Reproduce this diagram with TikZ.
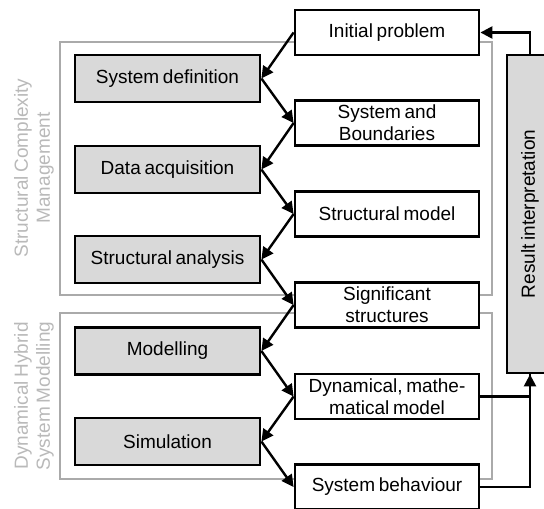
\documentclass[tikz,border=0pt]{standalone}
\usepackage{fontspec}
\setmainfont{Liberation Sans}[WordSpace=0.7]
\usetikzlibrary{arrows.meta}
\usetikzlibrary{positioning}

\definecolor{framegray}{RGB}{170,170,170}
\definecolor{labelgray}{RGB}{185,185,185}
\definecolor{boxgray}{RGB}{217,217,217}

\begin{document}
\begin{tikzpicture}[x=0.5pt,y=-0.5pt,font=\fontsize{9.5}{11}\selectfont,
  stepbox/.style={draw=black,line width=1.4pt,fill=boxgray,minimum width=92.5pt,minimum height=23.5pt,inner sep=1pt,align=center},
  resbox/.style={draw=black,line width=1.4pt,fill=white,minimum width=92pt,minimum height=22.5pt,inner sep=1pt,align=center},
  frame/.style={draw=framegray,line width=1pt},
  framelabel/.style={text=labelgray,align=center,rotate=90},
  conn/.style={draw=black,line width=1.2pt},
  arrow/.style={conn,-{Triangle[length=6pt,width=6pt]}}]
\useasboundingbox (0,0) rectangle (544,508);

% frames
\draw[frame] (60,42) rectangle (492,295);
\draw[frame] (60,313) rectangle (492,479);
\node[framelabel] (sclabel) at (34,168) {Structural Complexity\\Management};
\node[framelabel] (dhlabel) at (34,396) {Dynamical Hybrid\\System Modelling};

% steps
\node[stepbox] (sysdef) at (167.5,78.5) {System definition};
\node[stepbox] (dataacq) at (167.5,169.5) {Data acquisition};
\node[stepbox] (stranal) at (167.5,259.5) {Structural analysis};
\node[stepbox] (modelling) at (167.5,351) {Modelling};
\node[stepbox] (simulation) at (167.5,441.5) {Simulation};

% results
\node[resbox] (initprob) at (387,32.5) {Initial problem};
\node[resbox] (sysbound) at (387,123) {System and\\Boundaries};
\node[resbox] (strmodel) at (387,214) {Structural model};
\node[resbox] (sigstruct) at (387,305) {Significant\\structures};
\node[resbox] (dynmodel) at (387,396.5) {Dynamical, mathe-\\matical model};
\node[resbox] (sysbehav) at (387,487) {System behaviour};

\node[draw=black,line width=1.4pt,fill=boxgray,minimum width=159pt,minimum height=23pt,rotate=90] (resinterp) at (530,214) {Result interpretation};

% connectors
\draw[arrow] (initprob.west) -- (sysdef.east);
\draw[arrow] (sysdef.east) -- (sysbound.west);
\draw[arrow] (sysbound.west) -- (dataacq.east);
\draw[arrow] (dataacq.east) -- (strmodel.west);
\draw[arrow] (strmodel.west) -- (stranal.east);
\draw[arrow] (stranal.east) -- (sigstruct.west);
\draw[arrow] (sigstruct.west) -- (modelling.east);
\draw[arrow] (modelling.east) -- (dynmodel.west);
\draw[arrow] (dynmodel.west) -- (simulation.east);
\draw[arrow] (simulation.east) -- (sysbehav.west);

\draw[conn] (dynmodel.east) -| (resinterp.west);
\draw[arrow] (sysbehav.east) -| (resinterp.west);
\draw[arrow] (resinterp.east) |- (initprob.east);

\end{tikzpicture}
\end{document}
